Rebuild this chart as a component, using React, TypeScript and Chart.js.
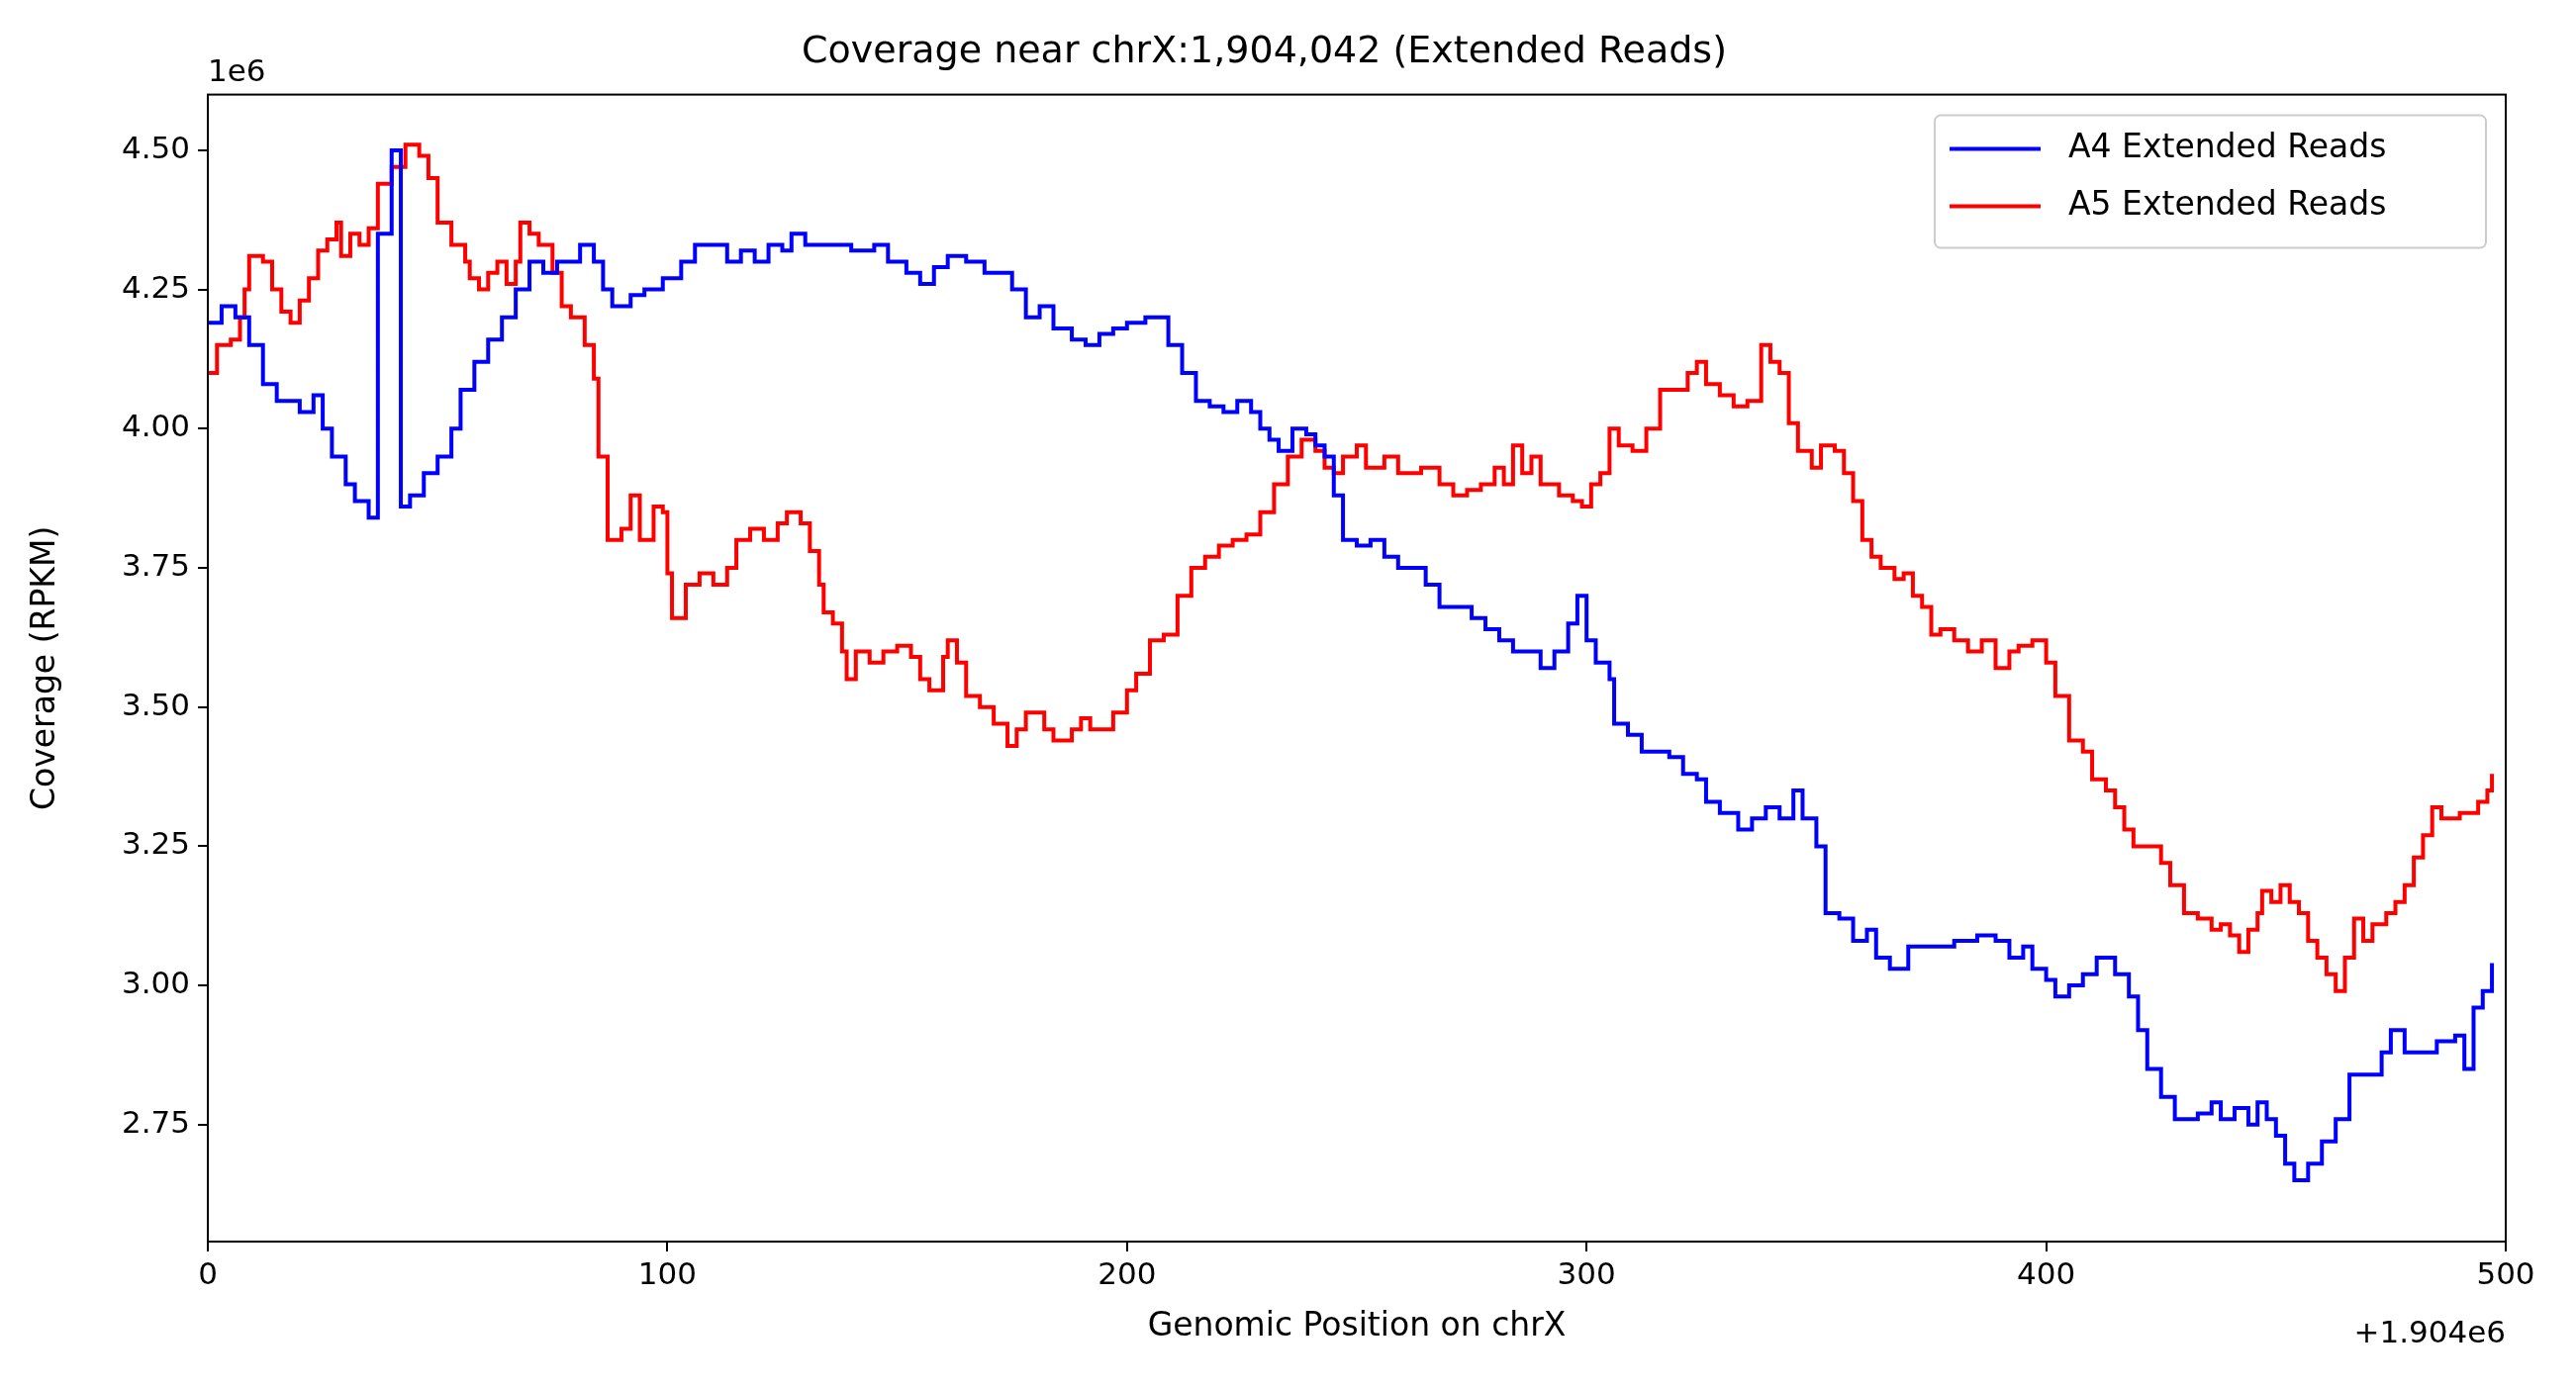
import React, { useEffect, useRef } from 'react';
import { Chart, registerables } from 'chart.js';

Chart.register(...registerables);

// positions are offsets from 1,904,000; values in millions of RPKM
const a4X = [0,3,6,9,12,15,20,23,25,27,30,32,35,37,40,42,44,47,50,53,55,58,61,64,67,70,73,76,79,81,84,86,88,92,95,99,103,106,110,113,116,119,122,125,127,130,140,145,148,152,155,158,161,165,169,172,175,178,181,184,188,191,194,197,200,204,207,209,212,215,218,221,224,227,229,231,233,236,239,241,243,245,247,250,253,256,259,262,265,268,272,275,278,281,284,287,290,293,296,298,300,302,305,306,309,312,318,321,324,326,329,333,336,339,342,345,347,350,352,355,358,361,363,366,370,375,380,385,389,392,395,397,400,402,405,408,411,415,418,420,422,425,428,433,436,438,441,444,446,448,450,452,454,457,460,463,466,470,473,475,478,482,485,489,491,493,495,497];
const a4Y = [4.19,4.22,4.20,4.15,4.08,4.05,4.03,4.06,4.00,3.95,3.90,3.87,3.84,4.35,4.50,3.86,3.88,3.92,3.95,4.00,4.07,4.12,4.16,4.20,4.25,4.30,4.28,4.30,4.30,4.33,4.30,4.25,4.22,4.24,4.25,4.27,4.30,4.33,4.33,4.30,4.32,4.30,4.33,4.32,4.35,4.33,4.32,4.33,4.30,4.28,4.26,4.29,4.31,4.30,4.28,4.28,4.25,4.20,4.22,4.18,4.16,4.15,4.17,4.18,4.19,4.20,4.20,4.15,4.10,4.05,4.04,4.03,4.05,4.03,4.00,3.98,3.96,4.00,3.99,3.97,3.95,3.88,3.80,3.79,3.80,3.77,3.75,3.75,3.72,3.68,3.68,3.66,3.64,3.62,3.60,3.60,3.57,3.60,3.65,3.70,3.62,3.58,3.55,3.47,3.45,3.42,3.41,3.38,3.37,3.33,3.31,3.28,3.30,3.32,3.30,3.35,3.30,3.25,3.13,3.12,3.08,3.10,3.05,3.03,3.07,3.07,3.08,3.09,3.08,3.05,3.07,3.03,3.01,2.98,3.00,3.02,3.05,3.02,2.98,2.92,2.85,2.80,2.76,2.77,2.79,2.76,2.78,2.75,2.79,2.76,2.73,2.68,2.65,2.68,2.72,2.76,2.84,2.84,2.88,2.92,2.88,2.88,2.90,2.91,2.85,2.96,2.99,3.04];

const a5X = [0,2,5,7,8,9,12,14,16,18,20,22,24,26,28,29,31,33,35,37,40,43,46,48,50,53,56,57,59,61,63,65,67,68,70,72,75,77,79,82,84,85,87,90,92,94,97,99,100,101,104,107,110,113,115,118,121,124,126,129,131,133,134,136,138,139,141,144,147,150,153,155,157,160,161,163,165,168,171,174,176,178,182,184,186,188,190,192,195,197,200,202,205,208,211,214,217,220,223,226,229,232,235,238,241,243,245,247,250,252,256,259,264,268,271,274,277,280,282,284,286,288,290,294,297,299,301,303,305,307,310,313,316,319,322,324,326,329,332,335,338,340,342,344,346,349,351,354,356,358,360,362,364,367,369,371,373,375,377,380,383,386,389,392,394,397,400,402,405,408,410,413,415,417,419,423,425,427,430,433,436,438,440,442,444,446,447,449,451,453,455,457,459,461,463,465,467,469,471,474,476,478,480,482,484,486,490,494,496,497];
const a5Y = [4.10,4.15,4.16,4.20,4.25,4.31,4.30,4.25,4.21,4.19,4.23,4.27,4.32,4.34,4.37,4.31,4.35,4.33,4.36,4.44,4.47,4.51,4.49,4.45,4.37,4.33,4.30,4.27,4.25,4.28,4.30,4.26,4.30,4.37,4.35,4.33,4.28,4.22,4.20,4.15,4.09,3.95,3.80,3.82,3.88,3.80,3.86,3.85,3.74,3.66,3.72,3.74,3.72,3.75,3.80,3.82,3.80,3.83,3.85,3.83,3.78,3.72,3.67,3.65,3.60,3.55,3.60,3.58,3.60,3.61,3.59,3.55,3.53,3.59,3.62,3.58,3.52,3.50,3.47,3.43,3.46,3.49,3.46,3.44,3.44,3.46,3.48,3.46,3.46,3.49,3.53,3.56,3.62,3.63,3.70,3.75,3.77,3.79,3.80,3.81,3.85,3.90,3.95,3.98,3.96,3.93,3.92,3.95,3.97,3.93,3.95,3.92,3.93,3.90,3.88,3.89,3.90,3.93,3.90,3.97,3.92,3.95,3.90,3.88,3.87,3.86,3.90,3.92,4.00,3.97,3.96,4.00,4.07,4.07,4.10,4.12,4.08,4.06,4.04,4.05,4.15,4.12,4.10,4.01,3.96,3.93,3.97,3.96,3.92,3.87,3.80,3.77,3.75,3.73,3.74,3.70,3.68,3.63,3.64,3.62,3.60,3.62,3.57,3.60,3.61,3.62,3.58,3.52,3.44,3.42,3.37,3.35,3.32,3.28,3.25,3.25,3.22,3.18,3.13,3.12,3.10,3.11,3.09,3.06,3.10,3.13,3.17,3.15,3.18,3.15,3.13,3.08,3.05,3.02,2.99,3.05,3.12,3.08,3.11,3.13,3.15,3.18,3.23,3.27,3.32,3.30,3.31,3.33,3.35,3.38];

const xTicks = [0, 100, 200, 300, 400, 500];
const yTicks = [2.75, 3.0, 3.25, 3.5, 3.75, 4.0, 4.25, 4.5];
const seriesNames = ['A4 Extended Reads', 'A5 Extended Reads'];
const seriesColors = ['#0000ff', '#ff0000'];

const FONT = '"DejaVu Sans", sans-serif';

const extras = {
  id: 'extras',
  afterDraw(chart: Chart) {
    const { ctx, chartArea: a } = chart;
    ctx.save();
    ctx.strokeStyle = '#000';
    ctx.lineWidth = 2;
    ctx.strokeRect(a.left, a.top, a.right - a.left, a.bottom - a.top);
    ctx.fillStyle = '#000';
    ctx.font = `31px ${FONT}`;
    ctx.textBaseline = 'bottom';
    ctx.textAlign = 'left';
    ctx.fillText('1e6', a.left, a.top - 6);
    ctx.textAlign = 'right';
    ctx.textBaseline = 'top';
    ctx.fillText('+1.904e6', a.right, a.bottom + 78);
    // legend
    const bw = 557, bh = 134;
    const bx = a.right - 20 - bw, by = a.top + 21;
    ctx.fillStyle = 'rgba(255,255,255,0.8)';
    ctx.strokeStyle = '#ccc';
    ctx.lineWidth = 2;
    ctx.beginPath();
    ctx.roundRect(bx, by, bw, bh, 6);
    ctx.fill();
    ctx.stroke();
    ctx.textAlign = 'left';
    ctx.textBaseline = 'middle';
    ctx.font = `33px ${FONT}`;
    seriesNames.forEach((n, i) => {
      const y = by + 34 + i * 58;
      ctx.strokeStyle = seriesColors[i];
      ctx.lineWidth = 4;
      ctx.beginPath();
      ctx.moveTo(bx + 15, y);
      ctx.lineTo(bx + 107, y);
      ctx.stroke();
      ctx.fillStyle = '#000';
      ctx.fillText(n, bx + 135, y);
    });
    ctx.restore();
  },
};

const App: React.FC = () => {
  const ref = useRef<HTMLCanvasElement>(null);
  useEffect(() => {
    if (!ref.current) return;
    const mk = (xs: number[], ys: number[]) => xs.map((x, i) => ({ x, y: ys[i] }));
    const chart = new Chart(ref.current, {
      type: 'line',
      data: {
        datasets: [
          { label: seriesNames[0], data: mk(a4X, a4Y), borderColor: seriesColors[0], borderWidth: 4, pointRadius: 0, stepped: 'before' as any },
          { label: seriesNames[1], data: mk(a5X, a5Y), borderColor: seriesColors[1], borderWidth: 4, pointRadius: 0, stepped: 'before' as any },
        ],
      },
      options: {
        animation: false,
        responsive: true,
        maintainAspectRatio: false,
        layout: { padding: { right: 63, left: 15, bottom: 30 } },
        plugins: {
          legend: { display: false },
          tooltip: { enabled: false },
          title: {
            display: true,
            text: 'Coverage near chrX:1,904,042 (Extended Reads)',
            color: '#000',
            font: { family: FONT, size: 38, weight: 'normal' },
            padding: { top: 22, bottom: 20 },
          },
        },
        scales: {
          x: {
            type: 'linear',
            min: 0,
            max: 500,
            afterBuildTicks: (s: any) => { s.ticks = xTicks.map((v) => ({ value: v })); },
            afterFit: (s: any) => { s.height = 110; },
            grid: { display: true, drawOnChartArea: false, drawTicks: true, tickLength: 10, color: '#000', lineWidth: 2 },
            border: { display: true, color: '#000', width: 2 },
            ticks: { color: '#000', font: { family: FONT, size: 31 }, padding: 6, maxRotation: 0 },
            title: { display: true, text: 'Genomic Position on chrX', color: '#000', font: { family: FONT, size: 33 }, padding: { top: 6 } },
          },
          y: {
            min: 2.54,
            max: 4.6,
            afterBuildTicks: (s: any) => { s.ticks = yTicks.map((v) => ({ value: v })); },
            afterFit: (s: any) => { s.width = 187; },
            grid: { display: true, drawOnChartArea: false, drawTicks: true, tickLength: 10, color: '#000', lineWidth: 2 },
            border: { display: true, color: '#000', width: 2 },
            ticks: { color: '#000', font: { family: FONT, size: 31 }, padding: 8, callback: (v: any) => Number(v).toFixed(2) },
            title: { display: true, text: 'Coverage (RPKM)', color: '#000', font: { family: FONT, size: 33 }, padding: { bottom: 10 } },
          },
        },
      },
      plugins: [extras],
    });
    return () => chart.destroy();
  }, []);

  return (
    <div style={{ width: 2587, height: 1387, background: '#fff' }}>
      <canvas ref={ref} />
    </div>
  );
};

export default App;
